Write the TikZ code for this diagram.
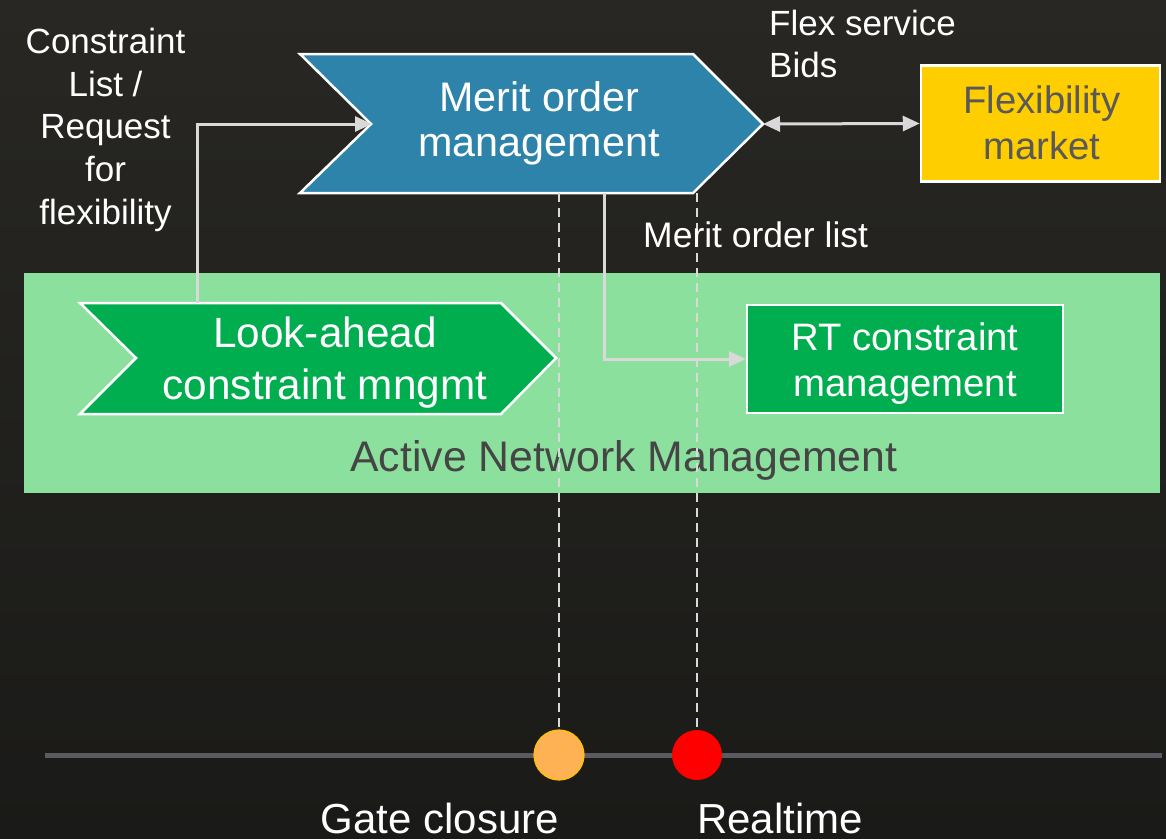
\documentclass[tikz,border=0pt]{standalone}
\usepackage{fontspec}
\setmainfont{Liberation Sans}
\usetikzlibrary{arrows.meta}
\definecolor{bgtop}{HTML}{282723}
\definecolor{bgbot}{HTML}{1A1A18}
\definecolor{meritblue}{HTML}{2E83AB}
\definecolor{boxgreen}{HTML}{00AD4F}
\definecolor{bandgreen}{HTML}{8CE09E}
\definecolor{flexyellow}{HTML}{FFCE00}
\definecolor{arrowgray}{HTML}{D9D9D9}
\definecolor{darktext}{HTML}{454545}
\definecolor{flextext}{HTML}{595959}
\definecolor{timegray}{HTML}{5A5A60}
\definecolor{gateorange}{HTML}{FFB254}
\definecolor{gateedge}{HTML}{FFC000}
\definecolor{rtred}{HTML}{FF0000}
\begin{document}
\begin{tikzpicture}[x=1pt,y=-1pt,
  chev/.style={draw=white, line width=2.5pt, line join=miter},
  boxst/.style={draw=white, line width=2.5pt},
  lbl/.style={inner sep=0pt, text=white, align=center},
  conn/.style={draw=arrowgray, line width=3pt, -{Triangle[length=17pt,width=15pt]}},
  dconn/.style={draw=arrowgray, line width=3pt, {Triangle[length=17pt,width=15pt]}-{Triangle[length=17pt,width=15pt]}},
  dashline/.style={draw=arrowgray, line width=1.5pt, dash pattern=on 9pt off 6pt},
  dot/.style={circle, minimum size=50pt, inner sep=0pt},
]
% background
\useasboundingbox (0,0) rectangle (1166,838);
\shade[top color=bgtop, bottom color=bgbot] (0,0) rectangle (1166,838);

% Active Network Management band
\fill[bandgreen] (24,273) rectangle (1160,493);
\node[inner sep=0pt, text=darktext, font=\fontsize{42.8}{50}\selectfont, anchor=base] (anm) at (624,471) {Active Network Management};

% timeline
\coordinate (tlL) at (45,755);
\coordinate (tlR) at (1162,755);
\draw[timegray, line width=5pt] (tlL) -- (tlR);

% Merit order chevron
\filldraw[chev, fill=meritblue] (300,54) -- (693,54) -- (763,124) -- (693,193) -- (300,193) -- (371,124) -- cycle;
\coordinate (meritNotch) at (372,124);
\coordinate (meritTip) at (763,124);
\coordinate (meritOut) at (604,193);
\coordinate (gateTop) at (559,193);
\coordinate (rtTop) at (697,193);
\node[lbl, font=\fontsize{41.3}{45}\selectfont] (merit) at (539,123.5) {Merit order\\management};

% Look-ahead chevron
\filldraw[chev, fill=boxgreen] (80,303) -- (501,303) -- (556,358) -- (501,414) -- (80,414) -- (136,358) -- cycle;
\coordinate (laOut) at (197,303);
\node[lbl, font=\fontsize{42.3}{52}\selectfont] (lookahead) at (325,363) {Look-ahead\\constraint mngmt};

% RT constraint management box
\node[boxst, fill=boxgreen, minimum width=316pt, minimum height=108pt, inner sep=0pt] (rtbox) at (905,359) {};
\node[lbl, font=\fontsize{38.3}{46}\selectfont] (rt) at (905,364) {RT constraint\\management};

% Flexibility market box
\node[boxst, fill=flexyellow, minimum width=239pt, minimum height=116pt, inner sep=0pt] (flexbox) at (1040.5,123.5) {};
\node[lbl, text=flextext, font=\fontsize{38.3}{46}\selectfont] (flex) at (1042,122.5) {Flexibility\\market};

% dashed time markers
\node[dot, fill=gateorange, draw=gateedge, line width=1.2pt] (gate) at (559,755) {};
\node[dot, fill=rtred] (realtime) at (697,755) {};
\draw[dashline] (gateTop) -- (gate.north);
\draw[dashline] (rtTop) -- (realtime.north);

% connectors
\draw[conn] (laOut) |- (meritNotch);
\draw[conn] (meritOut) |- (rtbox.west);
\draw[dconn] (meritTip) -- (flexbox.west);

% labels
\node[lbl, font=\fontsize{35}{42.75}\selectfont] (req) at (105.5,129.7) {Constraint\\List /\\Request\\for\\flexibility};
\node[lbl, align=left, anchor=west, font=\fontsize{35}{42}\selectfont] (bids) at (769,43.7) {Flex service\\Bids};
\node[lbl, anchor=base west, font=\fontsize{35.5}{42}\selectfont] (molist) at (643,247) {Merit order list};
\node[lbl, anchor=base, font=\fontsize{42}{50}\selectfont] (gatelbl) at (440,833) {Gate closure};
\node[lbl, anchor=base west, font=\fontsize{42}{50}\selectfont] (rtlbl) at (697,833) {Realtime};
\end{tikzpicture}
\end{document}
